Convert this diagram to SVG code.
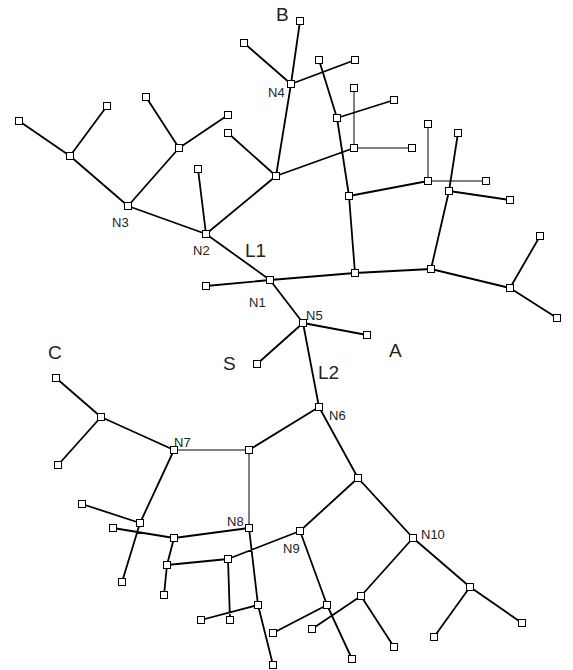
<svg xmlns="http://www.w3.org/2000/svg" xmlns:xlink="http://www.w3.org/1999/xlink" width="573" height="670" viewBox="0 0 573 670">
<style>
.e{stroke:#000;stroke-width:1.8;fill:none;stroke-linecap:round}
.t{stroke:#000;stroke-width:1;fill:none}
.sq{fill:#fff;stroke:#000;stroke-width:1}
.lb{font-family:"Liberation Sans",Arial,sans-serif;font-size:13px;fill:#222}
.big{font-family:"Liberation Sans",Arial,sans-serif;font-size:19px;fill:#222}
</style>
<defs><rect id="s" class="sq" x="-3.5" y="-3.5" width="7" height="7"/></defs>
<rect width="573" height="670" fill="#fff"/>
<g id="connectors">
<path class="e" d="M244,43L291,84M300,21L291,84M291,84L355,60M291,84L276,176M319,60L337,118M337,118L394,100M337,118L349,196M349,196L355,273M349,196L428,181M276,176L354,148M458,133L449,191M449,191L431,269M449,191L510,200M228,133L276,176M276,176L206,234M198,169L206,234M128,206L206,234M128,206L70,156M70,156L19,121M70,156L107,106M128,206L179,148M179,148L146,97M179,148L228,115M206,234L270,280M270,280L206,286M270,280L355,273M355,273L431,269M431,269L510,288M510,288L540,236M510,288L557,318M270,280L303,323M303,323L367,335M303,323L257,364M303,323L319,407"/>
<path class="t" d="M354,88L354,148L412,148M428,124L428,181L486,181M249,450L174,450M249,450L249,528"/>
<path class="e" d="M319,407L249,450M174,450L101,417M101,417L56,378M101,417L58,465M174,450L140,523M140,523L82,504M140,523L122,582M113,528L174,538M174,538L249,528M174,538L167,565M167,565L164,595M167,565L228,559M228,559L300,531M228,559L230,620M249,528L258,605M258,605L201,620M258,605L273,665M319,407L358,478M358,478L300,531M358,478L413,538M300,531L327,605M327,605L273,633M327,605L352,659M413,538L361,596M361,596L312,629M361,596L394,647M413,538L470,587M470,587L434,637M470,587L522,623"/>
</g>
<g id="nodes">
<g id="n_b"><use xlink:href="#s" x="244" y="43"/><text class="big" x="276" y="21">B</text></g>
<g id="n_t1"><use xlink:href="#s" x="300" y="21"/></g>
<g id="N4"><use xlink:href="#s" x="291" y="84"/><text class="lb" x="268" y="96.5">N4</text></g>
<g id="n_t2"><use xlink:href="#s" x="319" y="60"/></g>
<g id="n_t3"><use xlink:href="#s" x="355" y="60"/></g>
<g id="n_t4"><use xlink:href="#s" x="337" y="118"/></g>
<g id="n_t5"><use xlink:href="#s" x="394" y="100"/></g>
<g id="n_t6"><use xlink:href="#s" x="354" y="88"/></g>
<g id="n_t7"><use xlink:href="#s" x="354" y="148"/></g>
<g id="n_t8"><use xlink:href="#s" x="412" y="148"/></g>
<g id="n_t9"><use xlink:href="#s" x="349" y="196"/></g>
<g id="n_t10"><use xlink:href="#s" x="428" y="124"/></g>
<g id="n_t11"><use xlink:href="#s" x="428" y="181"/></g>
<g id="n_t12"><use xlink:href="#s" x="486" y="181"/></g>
<g id="n_t13"><use xlink:href="#s" x="458" y="133"/></g>
<g id="n_t14"><use xlink:href="#s" x="449" y="191"/></g>
<g id="n_t15"><use xlink:href="#s" x="510" y="200"/></g>
<g id="n_t16"><use xlink:href="#s" x="276" y="176"/></g>
<g id="n_t17"><use xlink:href="#s" x="228" y="133"/></g>
<g id="n_t18"><use xlink:href="#s" x="228" y="115"/></g>
<g id="n_t19"><use xlink:href="#s" x="179" y="148"/></g>
<g id="n_t20"><use xlink:href="#s" x="146" y="97"/></g>
<g id="n_t21"><use xlink:href="#s" x="70" y="156"/></g>
<g id="n_t22"><use xlink:href="#s" x="19" y="121"/></g>
<g id="n_t23"><use xlink:href="#s" x="107" y="106"/></g>
<g id="N3"><use xlink:href="#s" x="128" y="206"/><text class="lb" x="112" y="227">N3</text></g>
<g id="n_t24"><use xlink:href="#s" x="198" y="169"/></g>
<g id="N2"><use xlink:href="#s" x="206" y="234"/><text class="lb" x="193" y="255">N2</text><text class="big" x="245" y="257">L1</text></g>
<g id="N1"><use xlink:href="#s" x="270" y="280"/><text class="lb" x="249" y="306.5">N1</text></g>
<g id="n_m1"><use xlink:href="#s" x="206" y="286"/></g>
<g id="n_m2"><use xlink:href="#s" x="355" y="273"/></g>
<g id="n_m3"><use xlink:href="#s" x="431" y="269"/></g>
<g id="n_m4"><use xlink:href="#s" x="510" y="288"/></g>
<g id="n_m5"><use xlink:href="#s" x="540" y="236"/></g>
<g id="n_m6"><use xlink:href="#s" x="557" y="318"/></g>
<g id="N5"><use xlink:href="#s" x="303" y="323"/><text class="lb" x="306" y="320">N5</text><text class="big" x="318" y="379">L2</text></g>
<g id="n_m7"><use xlink:href="#s" x="367" y="335"/><text class="big" x="389" y="357">A</text></g>
<g id="n_m8"><use xlink:href="#s" x="257" y="364"/><text class="big" x="223" y="370">S</text></g>
<g id="N6"><use xlink:href="#s" x="319" y="407"/><text class="lb" x="329" y="420">N6</text></g>
<g id="n_b1"><use xlink:href="#s" x="249" y="450"/></g>
<g id="N7"><use xlink:href="#s" x="174" y="450"/><text class="lb" x="174" y="446.5">N7</text></g>
<g id="N8"><use xlink:href="#s" x="249" y="528"/><text class="lb" x="227" y="525.5">N8</text></g>
<g id="n_b2"><use xlink:href="#s" x="101" y="417"/></g>
<g id="n_b3"><use xlink:href="#s" x="56" y="378"/><text class="big" x="48" y="359">C</text></g>
<g id="n_b4"><use xlink:href="#s" x="58" y="465"/></g>
<g id="n_b5"><use xlink:href="#s" x="140" y="523"/></g>
<g id="n_b6"><use xlink:href="#s" x="82" y="504"/></g>
<g id="n_b7"><use xlink:href="#s" x="122" y="582"/></g>
<g id="n_b8"><use xlink:href="#s" x="113" y="528"/></g>
<g id="n_b9"><use xlink:href="#s" x="174" y="538"/></g>
<g id="n_b10"><use xlink:href="#s" x="167" y="565"/></g>
<g id="n_b11"><use xlink:href="#s" x="164" y="595"/></g>
<g id="n_b12"><use xlink:href="#s" x="228" y="559"/></g>
<g id="n_b13"><use xlink:href="#s" x="230" y="620"/></g>
<g id="N9"><use xlink:href="#s" x="300" y="531"/><text class="lb" x="283" y="553">N9</text></g>
<g id="n_b14"><use xlink:href="#s" x="258" y="605"/></g>
<g id="n_b15"><use xlink:href="#s" x="201" y="620"/></g>
<g id="n_b16"><use xlink:href="#s" x="273" y="665"/></g>
<g id="n_b17"><use xlink:href="#s" x="358" y="478"/></g>
<g id="N10"><use xlink:href="#s" x="413" y="538"/><text class="lb" x="421" y="539">N10</text></g>
<g id="n_b18"><use xlink:href="#s" x="327" y="605"/></g>
<g id="n_b19"><use xlink:href="#s" x="273" y="633"/></g>
<g id="n_b20"><use xlink:href="#s" x="352" y="659"/></g>
<g id="n_b21"><use xlink:href="#s" x="361" y="596"/></g>
<g id="n_b22"><use xlink:href="#s" x="312" y="629"/></g>
<g id="n_b23"><use xlink:href="#s" x="394" y="647"/></g>
<g id="n_b24"><use xlink:href="#s" x="470" y="587"/></g>
<g id="n_b25"><use xlink:href="#s" x="434" y="637"/></g>
<g id="n_b26"><use xlink:href="#s" x="522" y="623"/></g>
</g>
</svg>
